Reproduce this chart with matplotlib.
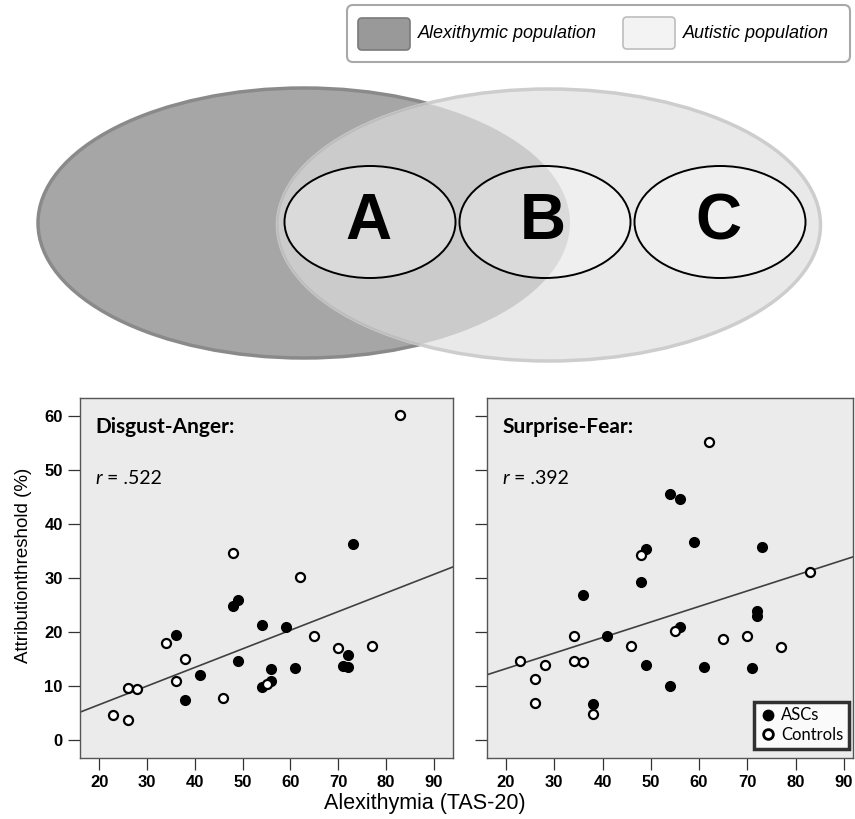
import numpy as np
import matplotlib
matplotlib.use("Agg")
import matplotlib.pyplot as plt
from matplotlib.patches import Ellipse, FancyBboxPatch
from matplotlib.lines import Line2D

# ---- data ----
da_asc_x = [73, 49, 48, 54, 59, 36, 49, 41, 38, 72, 71, 72, 61, 56, 56, 54]
da_asc_y = [36.3, 26.0, 24.8, 21.4, 21.0, 19.5, 14.6, 12.0, 7.4, 15.8, 13.8, 13.5, 13.3, 13.2, 11.0, 9.9]
da_ctl_x = [83, 48, 62, 34, 38, 36, 46, 26, 28, 23, 26, 65, 70, 77, 55]
da_ctl_y = [60.2, 34.7, 30.3, 18.0, 15.1, 10.9, 7.8, 9.7, 9.4, 4.6, 3.8, 19.4, 17.1, 17.4, 10.5]
da_fit = (-0.32, 0.345)  # intercept, slope
da_r = ".522"

sf_asc_x = [54, 56, 59, 73, 49, 48, 36, 72, 72, 56, 41, 49, 61, 71, 54, 38]
sf_asc_y = [45.7, 44.6, 36.7, 35.8, 35.4, 29.3, 26.9, 23.9, 23.1, 21.0, 19.3, 13.9, 13.5, 13.4, 10.0, 6.7]
sf_ctl_x = [62, 48, 83, 55, 34, 46, 65, 70, 77, 23, 28, 34, 36, 26, 26, 38]
sf_ctl_y = [55.3, 34.3, 31.2, 20.2, 19.3, 17.5, 18.7, 19.3, 17.3, 14.7, 13.9, 14.6, 14.4, 11.3, 6.9, 4.8]
sf_fit = (7.5, 0.288)
sf_r = ".392"

xticks = [20, 30, 40, 50, 60, 70, 80, 90]
yticks = [0, 10, 20, 30, 40, 50, 60]

# tick labels are bold Arial-like; everything else sets its own weight
plt.rcParams["font.family"] = ["Liberation Sans", "DejaVu Sans"]
plt.rcParams["font.weight"] = "bold"
plt.rcParams["xtick.labelsize"] = 12
plt.rcParams["ytick.labelsize"] = 12

W, H = 855, 819
fig = plt.figure(figsize=(W / 100, H / 100), dpi=100)


def frac(x0, y0, x1, y1):
    # pixel box (top-left origin) -> figure fraction
    return [x0 / W, 1 - y1 / H, (x1 - x0) / W, (y1 - y0) / H]


# ---- top diagram ----
top = fig.add_axes(frac(0, 0, W, 385))
top.set_xlim(0, W)
top.set_ylim(385, 0)
top.axis("off")

left_e = Ellipse((304, 223), 532, 270, fc="#a6a6a6", ec="#8a8a8a", lw=2.5, zorder=1)
top.add_patch(left_e)
right_e = Ellipse((549, 225), 543, 272, fc="#e9e9e9", ec="#cdcdcd", lw=2.5, zorder=2)
top.add_patch(right_e)
overlap = Ellipse((549, 225), 543, 272, fc="#cbcbcb", ec="#bdbdbd", lw=1.5, zorder=3)
top.add_patch(overlap)
overlap.set_clip_path(left_e)

for cx, letter in [(370, "A"), (545, "B"), (720, "C")]:
    top.add_patch(Ellipse((cx, 222), 171, 112, fc=(1, 1, 1, 0.3), ec="black", lw=1.4, zorder=4))
    top.text(cx - 2, 222, letter, ha="center", va="center", fontsize=46, fontweight="bold",
             zorder=5)

# legend box
top.add_patch(FancyBboxPatch((347, 5), 503, 57, boxstyle="round,pad=0,rounding_size=6",
                             fc="white", ec="#a8a8a8", lw=1.5, zorder=1))
top.add_patch(FancyBboxPatch((358, 18), 52, 32, boxstyle="round,pad=0,rounding_size=4",
                             fc="#999999", ec="#7a7a7a", lw=1.2, zorder=2))
top.add_patch(FancyBboxPatch((623, 17), 52, 32, boxstyle="round,pad=0,rounding_size=4",
                             fc="#f3f3f3", ec="#bdbdbd", lw=1.2, zorder=2))
top.text(418, 33, "Alexithymic population", fontsize=13, style="italic",
         fontweight="normal", va="center")
top.text(683, 34, "Autistic population", fontsize=13, style="italic",
         fontweight="normal", va="center")

# ---- scatter panels ----
ax1 = fig.add_axes(frac(80, 398, 453, 757.5))
ax2 = fig.add_axes(frac(487, 398, 853, 757.5))

panels = [
    (ax1, da_asc_x, da_asc_y, da_ctl_x, da_ctl_y, da_fit, "Disgust-Anger:", da_r, (16, 94)),
    (ax2, sf_asc_x, sf_asc_y, sf_ctl_x, sf_ctl_y, sf_fit, "Surprise-Fear:", sf_r, (16.07, 91.9)),
]

for ax, ax_x, ax_y, cx, cy, fit, title, r, xlim in panels:
    ax.set_facecolor("#ebebeb")
    ax.set_xlim(*xlim)
    ax.set_ylim(-3.2, 63.4)
    xs = np.array(xlim)
    ax.plot(xs, fit[0] + fit[1] * xs, color="#404040", lw=1.2, zorder=2)
    ax.plot(ax_x, ax_y, "o", ms=7, color="black", mec="black", zorder=3)
    ax.plot(cx, cy, "o", ms=6.5, mfc="white", mec="black", mew=1.6, zorder=4)
    ax.set_xticks(xticks)
    ax.set_yticks(yticks)
    for s in ax.spines.values():
        s.set_color("#555555")
        s.set_linewidth(1.0)
    ax.tick_params(direction="out", length=8.5, width=0.9, color="#333333", pad=4)
    ax.text(0.042, 0.92, title, transform=ax.transAxes, fontsize=15, fontweight="bold",
            family="Lato", va="center")
    rt = ax.text(0.042, 0.775, "r", transform=ax.transAxes, fontsize=14, style="italic",
                 family="Lato", fontweight="normal", va="center")
    ax.annotate(" = " + r, xy=(1, 0.5), xycoords=rt, va="center", fontsize=14,
                family="Lato", fontweight="normal")

ax2.tick_params(labelleft=False)
fig.text(24 / W, 1 - 565 / H, "Attributionthreshold (%)", fontsize=13.5, fontweight="normal",
         rotation=90, ha="center", va="center")
fig.text(425 / W, 1 - 803 / H, "Alexithymia (TAS-20)", fontsize=15.5, fontweight="normal",
         ha="center", va="center")

handles = [
    Line2D([], [], marker="o", ls="", ms=7.5, color="black"),
    Line2D([], [], marker="o", ls="", ms=7, mfc="white", mec="black", mew=2),
]
leg = ax2.legend(handles, ["ASCs", "Controls"], loc="lower right", bbox_to_anchor=(0.99, 0.025),
                 frameon=True, fancybox=False,
                 prop={"family": "Lato", "size": 12, "weight": "normal"},
                 handletextpad=0.3, borderpad=0.35, labelspacing=0.2, handlelength=1.0,
                 borderaxespad=0)
leg.get_frame().set_edgecolor("black")
leg.get_frame().set_linewidth(2.5)

fig.savefig("out.png", dpi=100)
